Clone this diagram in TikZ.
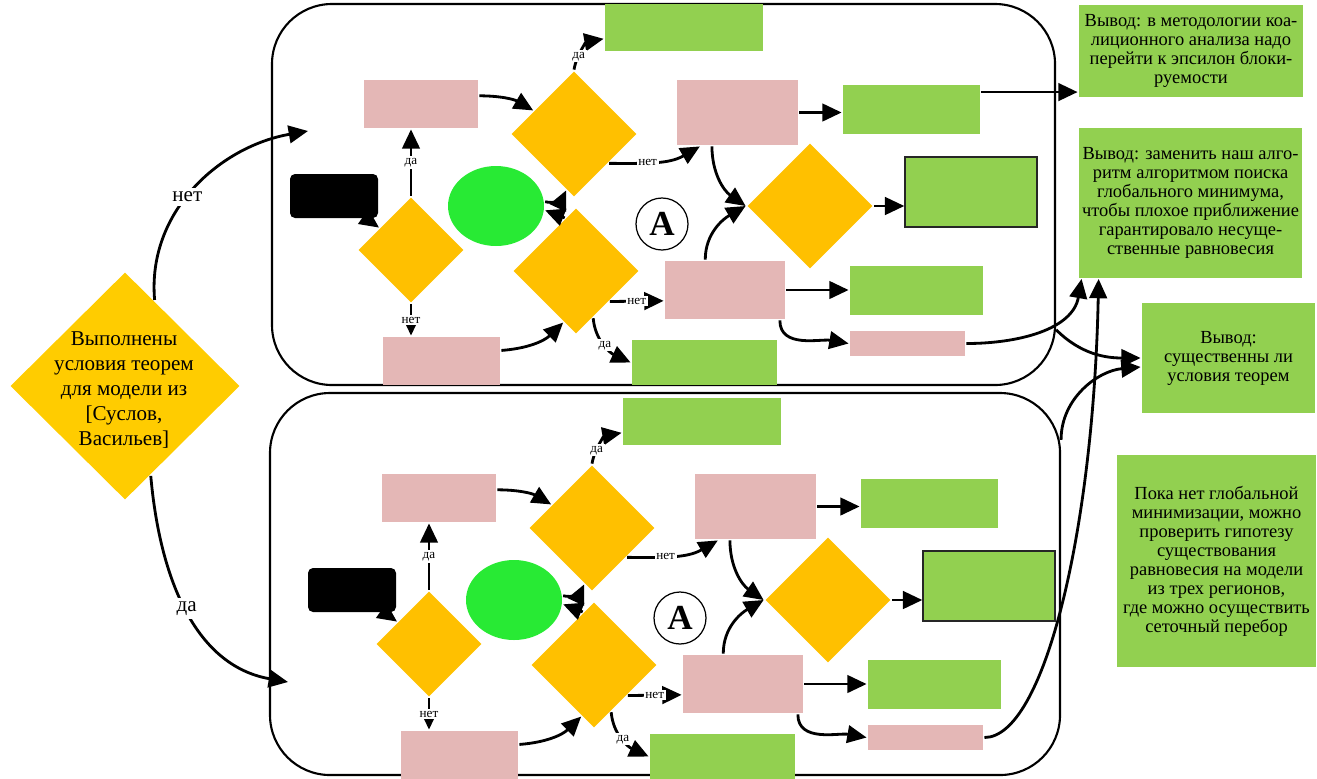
\documentclass[tikz,border=0pt]{standalone}
\usepackage{fontspec}
\setmainfont{Liberation Serif}
\usetikzlibrary{shapes.geometric,arrows.meta}

\definecolor{rose}{RGB}{228,183,182}
\definecolor{leaf}{RGB}{146,208,80}
\definecolor{amber}{RGB}{255,192,0}
\definecolor{condgold}{RGB}{255,204,0}
\definecolor{blob}{RGB}{40,234,52}

\begin{document}
\begin{tikzpicture}%
  [x=0.02cm, y=-0.02cm,
   >={Triangle[length=11pt,width=10pt]},
   line width=1.6pt,
   every node/.style={inner sep=0pt},
   wh/.style 2 args={minimum width=#1*0.02cm, minimum height=#2*0.02cm},
   rosebox/.style={rectangle, fill=rose},
   leafbox/.style={rectangle, fill=leaf},
   choice/.style={diamond, fill=amber, minimum size=126*0.02cm},
   blkbox/.style={rectangle, fill=black, rounded corners=0.1cm},
   note/.style={leafbox, align=center, font=\fontsize{10.5}{10.8}\selectfont},
   yn/.style={fill=white, inner sep=1pt, font=\fontsize{7.5}{8}\selectfont},
   big yn/.style={fill=white, inner sep=2pt, font=\fontsize{12}{14}\selectfont},
   panel/.style={draw, line width=1.2pt, rounded corners=1.2cm}
  ]
\useasboundingbox (0,0) rectangle (1317,778);

% the two sub-schemes
\node[panel, wh={783}{381}] (tframe) at (663.5,194.5) {};
\node[panel, wh={790}{382}] (bframe) at (665,584) {};

\foreach \p/\dx/\dy in {t/0/0, b/18/394} {
\begin{scope}[shift={(\dx,\dy)}]
\node[blkbox, wh={88}{44}]             (\p blk) at (334,196)     {};
\node[choice, minimum size=106*0.02cm] (\p d1)  at (411,250)     {};
\node[rosebox, wh={114}{48}]           (\p p1)  at (421,104)     {};
\node[rosebox, wh={117}{48}]           (\p p2)  at (441.5,361)   {};
\node[ellipse, fill=blob, wh={96}{80}] (\p ell) at (496,206)     {};
\node[choice]                          (\p d2)  at (574,134)     {};
\node[choice]                          (\p d3)  at (576,271)     {};
\node[leafbox, wh={158}{47}]           (\p g1)  at (684,27.5)    {};
\node[rosebox, wh={121}{65}]           (\p p3)  at (737.5,112.5) {};
\node[leafbox, wh={137}{49}]           (\p g2)  at (911.5,109.5) {};
\node[choice]                          (\p d4)  at (810,206)     {};
\node[leafbox, draw=black!85, line width=0.8pt, wh={132}{70}] (\p g3) at (971,192) {};
\node[rosebox, wh={120}{58}]           (\p p4)  at (725,290)     {};
\node[leafbox, wh={133}{49}]           (\p g4)  at (916.5,290.5) {};
\node[rosebox, wh={115}{25}]           (\p p5)  at (907.5,343.5) {};
\node[leafbox, wh={145}{45}]           (\p g5)  at (704.5,362.5) {};
\node[circle, draw, line width=0.7pt, minimum size=52*0.02cm,
      font=\fontsize{20}{20}\selectfont\bfseries] (\p mark) at (662,224) {A};

\path[->]
%  FROM           BEND                   LABEL                    TO
  (\p blk)      edge                                            (\p d1)
  (\p d1.north) edge                     node[yn] {да}          (\p d1.north |- \p p1.south)
  (\p d1.south) edge                     node[yn] {нет}         (\p d1.south |- \p p2.north)
  (\p p1.8)     edge[bend left=15]                              (\p d2.150)
  (\p p2.10)    edge[bend right=20]                             (\p d3.256)
  (\p d2.north) edge[out=80,in=190]      node[yn,pos=0.3] {да}  (\p g1.188)
  (\p d2.-40)   edge[out=0,in=210]       node[yn,pos=0.4] {нет} (\p p3.222)
  (\p ell.5)    edge[out=-15,in=-115]                           (\p d2.262)
  (\p d3.102)   edge                                            (\p ell.-5)
  (\p d3.-42)   edge                     node[yn] {нет}         (\p p4.190)
  (\p d3.-70)   edge[out=-85,in=155]     node[yn] {да}          (\p g5.west)
  (\p p3.233)   edge[out=-90,in=145]                            (\p d4.west)
  (\p p4.123)   edge[out=90,in=210]                             (\p d4.west)
  (\p p3.east)  edge                                            (\p p3.east -| \p g2.west)
  (\p d4.east)  edge                                            (\p d4.east -| \p g3.west)
  (\p p4.east)  edge                                            (\p p4.east -| \p g4.west)
  (\p p4.-29)   edge[out=-90,in=170]                            (\p p5.west)
  ;
\end{scope}
}

% starting condition
\node[diamond, fill=condgold, wh={230}{228}] (cond) at (125,386) {};
\node[align=center, font=\fontsize{12}{14.2}\selectfont] (condtext) at (124,390)
  {Выполнены\\условия теорем\\для модели из\\{[}Суслов,\\Васильев{]}};

% conclusions
\node[note, wh={224}{92}]  (r1) at (1191,51)
  {Вывод: в методологии коа-\\лиционного анализа надо\\перейти к эпсилон блоки-\\руемости};
\node[note, wh={223}{150}] (r2) at (1190.5,202.5)
  {Вывод: заменить наш алго-\\ритм алгоритмом поиска\\глобального минимума,\\чтобы плохое приближение\\гарантировало несуще-\\ственные равновесия};
\node[note, wh={173}{110}] (r3) at (1228.5,358)
  {Вывод:\\существенны ли\\условия теорем};
\node[note, wh={199}{212}] (r4) at (1216.5,561)
  {Пока нет глобальной\\минимизации, можно\\проверить гипотезу\\существования\\равновесия на модели\\из трех регионов,\\где можно осуществить\\сеточный перебор};

\coordinate (tin) at (308,131);
\coordinate (bin) at (288,682);

\path[->]
  (cond.71)    edge[out=95,in=190]  node[big yn,pos=0.45] {нет} (tin)
  (cond.-74)   edge[out=-85,in=170] node[big yn] {да}           (bin)
  (tg2.14)     edge                                             (tg2.14 -| r1.west)
  (tp5.east)   edge[out=0,in=-100]                              ([xshift=0.08cm]r2.south west)
  (tframe.-19) edge[out=-45,in=180]                             (r3.west)
  (bframe.20)  edge[out=90,in=185]                              ([yshift=-0.18cm]r3.west)
  ;
\draw[->] (bp5.east) .. controls +(60,0) and +(-5,250) .. ([xshift=0.42cm]r2.south west);
\end{tikzpicture}
\end{document}
